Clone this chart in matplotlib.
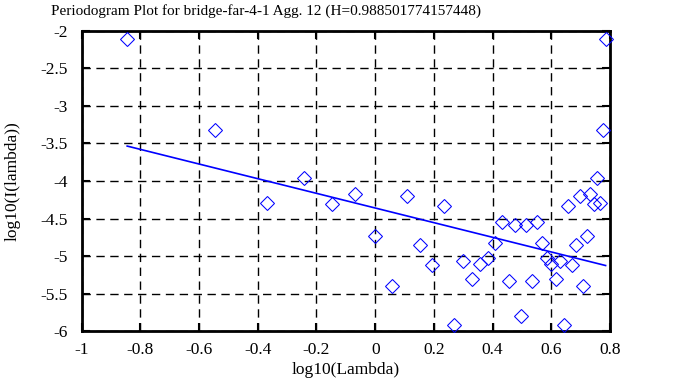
import matplotlib
matplotlib.use("Agg")
import matplotlib.pyplot as plt
import numpy as np

plt.rcParams['font.family'] = ['Liberation Serif', 'DejaVu Serif']

title = "Periodogram Plot for bridge-far-4-1 Agg. 12 (H=0.988501774157448)"
H = 0.988501774157448

log_lambda = [-0.845, -0.545, -0.368, -0.244, -0.147, -0.068, 0.000, 0.057, 0.108,
              0.153, 0.195, 0.234, 0.268, 0.299, 0.330, 0.357, 0.383, 0.408, 0.432,
              0.455, 0.475, 0.496, 0.515, 0.534, 0.552, 0.568, 0.584, 0.600, 0.615,
              0.630, 0.644, 0.658, 0.672, 0.685, 0.697, 0.709, 0.721, 0.733, 0.744,
              0.755, 0.766, 0.776, 0.785]
log_I = [-2.107, -3.316, -4.290, -3.960, -4.300, -4.170, -4.727, -5.396, -4.206,
         -4.855, -5.125, -4.337, -5.917, -5.068, -5.310, -5.100, -5.020, -4.830, -4.549,
         -5.329, -4.590, -5.806, -4.590, -5.329, -4.549, -4.830, -5.020, -5.100, -5.310,
         -5.068, -5.917, -4.337, -5.125, -4.855, -4.206, -5.396, -4.727, -4.170, -4.300,
         -3.960, -4.290, -3.316, -2.107]
fit_intercept = -4.36
fit_slope = 1 - 2 * H

xticks = [-1, -0.8, -0.6, -0.4, -0.2, 0, 0.2, 0.4, 0.6, 0.8]
xticklabels = ["-1", "-0.8", "-0.6", "-0.4", "-0.2", "0", "0.2", "0.4", "0.6", "0.8"]
yticks = [-6, -5.5, -5, -4.5, -4, -3.5, -3, -2.5, -2]
yticklabels = ["-6", "-5.5", "-5", "-4.5", "-4", "-3.5", "-3", "-2.5", "-2"]

fig = plt.figure(figsize=(6.78, 3.87), dpi=100)
ax = fig.add_axes([0.1205, 0.1447, 0.7792, 0.7752])

ax.plot(log_lambda, log_I, linestyle='none', marker='D', markersize=7.3,
        markerfacecolor='none', markeredgecolor='#0000ff', markeredgewidth=0.75,
        clip_on=False, zorder=3)
xl = np.array([min(log_lambda), max(log_lambda)])
ax.plot(xl, fit_intercept + fit_slope * xl, color='#0000ff', linewidth=1.2, zorder=3)

ax.set_xlim(-1, 0.8)
ax.set_ylim(-6, -2)
ax.set_xticks(xticks)
ax.set_xticklabels(xticklabels)
ax.set_yticks(yticks)
ax.set_yticklabels(yticklabels)
ax.grid(True, color='black', linestyle=(0, (6, 4)), linewidth=1.0)
ax.tick_params(direction='in', top=True, right=True, length=6, width=1.5,
               labelsize=12.5)
ax.tick_params(axis='x', pad=8)
ax.tick_params(axis='y', pad=10)
for s in ax.spines.values():
    s.set_linewidth(2)

ax.set_xlabel("log10(Lambda)", fontsize=12.5, labelpad=3)
ax.set_ylabel("log10(I(lambda))", fontsize=12.5, labelpad=14)
fig.text(266 / 678, 1 - 11 / 387, title, fontsize=11.0, ha='center', va='center')

fig.savefig("out.png", dpi=100)
